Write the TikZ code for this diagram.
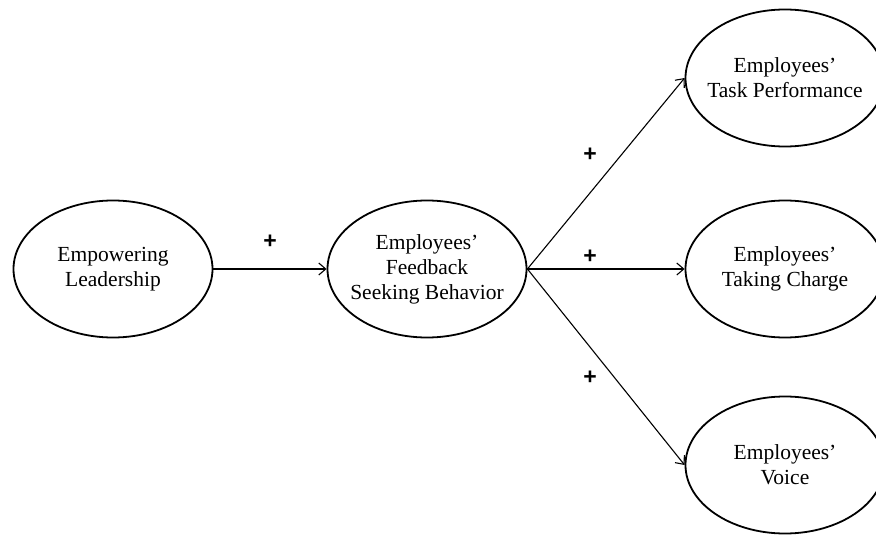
\documentclass[tikz,border=0pt]{standalone}
\usepackage{fontspec}
\setmainfont{Liberation Serif}
\newfontfamily\plusfont{Liberation Sans}
\usetikzlibrary{shapes.geometric,arrows.meta}
\begin{document}
\begin{tikzpicture}[x=1pt,y=-1pt,
  construct/.style={draw,line width=1.8pt,ellipse,inner sep=0pt,
    minimum width=199pt,minimum height=137pt},
  ctext/.style={align=center,inner sep=0pt,
    font=\fontsize{21.5}{25}\selectfont},
  path/.style={line width=1.1pt,-{Straight Barb[length=7pt,width=12pt,line width=1.1pt]}},
  sign/.style={font=\plusfont\bfseries\fontsize{23}{23}\selectfont,inner sep=0pt}]
\useasboundingbox (0,0) rectangle (876,535);
\node[construct] (el) at (113,269) {};
\node[construct] (fb) at (427,269) {};
\node[construct] (tp) at (785,78) {};
\node[construct] (tc) at (785,269) {};
\node[construct] (vo) at (785,465) {};
\node[ctext] (elt) at (el) {Empowering\\Leadership};
\node[ctext] (fbt) at (fb) {Employees'\\Feedback\\Seeking Behavior};
\node[ctext] (tpt) at (tp) {Employees'\\Task Performance};
\node[ctext] (tct) at (tc) {Employees'\\Taking Charge};
\node[ctext] (vot) at (vo) {Employees'\\Voice};
\draw[path] (el.east) -- (fb.west);
\draw[path] (fb.east) -- (tp.west);
\draw[path] (fb.east) -- (tc.west);
\draw[path] (fb.east) -- (vo.west);
\node[sign] (p1) at (270,242) {+};
\node[sign] (p2) at (590,155) {+};
\node[sign] (p3) at (590,257) {+};
\node[sign] (p4) at (590,378) {+};
\end{tikzpicture}
\end{document}
